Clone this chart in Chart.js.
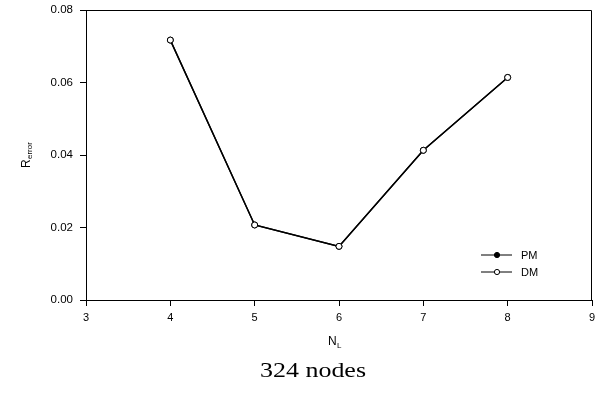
<!DOCTYPE html>
<html>
<head>
<meta charset="utf-8">
<script src="https://cdn.jsdelivr.net/npm/chart.js@4"></script>
<style>
  html, body { margin: 0; padding: 0; background: #fff; }
  #wrap { width: 599px; height: 393px; }
</style>
</head>
<body>
<div id="wrap"><canvas id="c"></canvas></div>
<script>
// data
const nl = [4, 5, 6, 7, 8];
const pm = [0.0717, 0.0207, 0.0148, 0.0413, 0.0614];
const dm = [0.0717, 0.0207, 0.0148, 0.0413, 0.0614];
const yTicks = [0, 0.02, 0.04, 0.06, 0.08];
const xTicks = [3, 4, 5, 6, 7, 8, 9];

const toXY = (xs, ys) => xs.map((x, i) => ({ x: x, y: ys[i] }));

// frame, axis titles with subscripts, legend, caption
const extras = {
  id: 'extras',
  afterDraw(chart) {
    const ctx = chart.ctx, a = chart.chartArea;
    ctx.save();
    ctx.strokeStyle = '#000';
    ctx.lineWidth = 1;
    ctx.beginPath();
    ctx.moveTo(a.left, a.top + 0.5);
    ctx.lineTo(a.right - 0.5, a.top + 0.5);
    ctx.lineTo(a.right - 0.5, a.bottom);
    ctx.stroke();

    ctx.fillStyle = '#000';
    ctx.textBaseline = 'alphabetic';
    // x title N_L
    ctx.font = '12px "Liberation Sans", Arial';
    ctx.textAlign = 'left';
    ctx.fillText('N', 328, 345);
    ctx.font = '8px "Liberation Sans", Arial';
    ctx.fillText('L', 337, 348);
    // y title R_error
    ctx.save();
    ctx.translate(30, 168);
    ctx.rotate(-Math.PI / 2);
    ctx.font = '12px "Liberation Sans", Arial';
    ctx.fillText('R', 0, 0);
    ctx.font = '8px "Liberation Sans", Arial';
    ctx.fillText('error', 9, 2);
    ctx.restore();

    // legend
    const rows = [['PM', '#000'], ['DM', '#fff']];
    rows.forEach((r, i) => {
      const y = 255 + i * 17;
      ctx.beginPath();
      ctx.moveTo(481, y);
      ctx.lineTo(512, y);
      ctx.lineWidth = 1;
      ctx.strokeStyle = '#000';
      ctx.stroke();
      ctx.beginPath();
      ctx.arc(497, y, 2.6, 0, Math.PI * 2);
      ctx.fillStyle = r[1];
      ctx.fill();
      ctx.stroke();
      ctx.fillStyle = '#000';
      ctx.font = '11px "Liberation Sans", Arial';
      ctx.textAlign = 'left';
      ctx.textBaseline = 'middle';
      ctx.fillText(r[0], 521, y + 1);
    });

    // caption, slightly stretched like the source
    ctx.textBaseline = 'alphabetic';
    ctx.textAlign = 'center';
    ctx.font = '21px "Liberation Serif", "Times New Roman"';
    const w = ctx.measureText('324 nodes').width;
    ctx.save();
    ctx.translate(313, 377);
    ctx.scale(106 / w, 1);
    ctx.fillText('324 nodes', 0, 0);
    ctx.restore();
    ctx.restore();
  }
};

new Chart(document.getElementById('c'), {
  type: 'line',
  data: {
    datasets: [
      {
        label: 'PM',
        data: toXY(nl, pm),
        order: 2,
        borderColor: '#000',
        borderWidth: 1.4,
        pointRadius: 3,
        pointBackgroundColor: '#000',
        pointBorderColor: '#000',
        pointBorderWidth: 1,
        tension: 0
      },
      {
        label: 'DM',
        data: toXY(nl, dm),
        order: 1,
        borderColor: '#000',
        borderWidth: 1.4,
        pointRadius: 3,
        pointBackgroundColor: '#fff',
        pointBorderColor: '#000',
        pointBorderWidth: 1,
        tension: 0
      }
    ]
  },
  options: {
    responsive: true,
    maintainAspectRatio: false,
    animation: false,
    devicePixelRatio: 1,
    layout: { padding: { left: 0, top: 10, right: 7, bottom: 0 } },
    plugins: { legend: { display: false }, tooltip: { enabled: false } },
    scales: {
      x: {
        type: 'linear',
        min: 3, max: 9,
        afterBuildTicks: s => { s.ticks = xTicks.map(v => ({ value: v })); },
        afterFit: s => { s.height = 93; s.paddingLeft = 0; s.paddingRight = 0; },
        grid: { drawOnChartArea: false, drawTicks: true, tickLength: 6, color: '#000' },
        border: { display: true, color: '#000', width: 1 },
        ticks: { color: '#000', font: { family: '"Liberation Sans", Arial', size: 11 }, padding: 5, maxRotation: 0,
                 callback: v => String(v) }
      },
      y: {
        type: 'linear',
        min: 0, max: 0.08,
        afterBuildTicks: s => { s.ticks = yTicks.map(v => ({ value: v })); },
        afterFit: s => { s.width = 86; s.paddingTop = 0; s.paddingBottom = 0; },
        grid: { drawOnChartArea: false, drawTicks: true, tickLength: 6, color: '#000' },
        border: { display: true, color: '#000', width: 1 },
        ticks: { color: '#000', font: { family: '"Liberation Sans", Arial', size: 11.5 }, padding: 7,
                 callback: v => v.toFixed(2) }
      }
    }
  },
  plugins: [extras]
});
</script>
</body>
</html>
